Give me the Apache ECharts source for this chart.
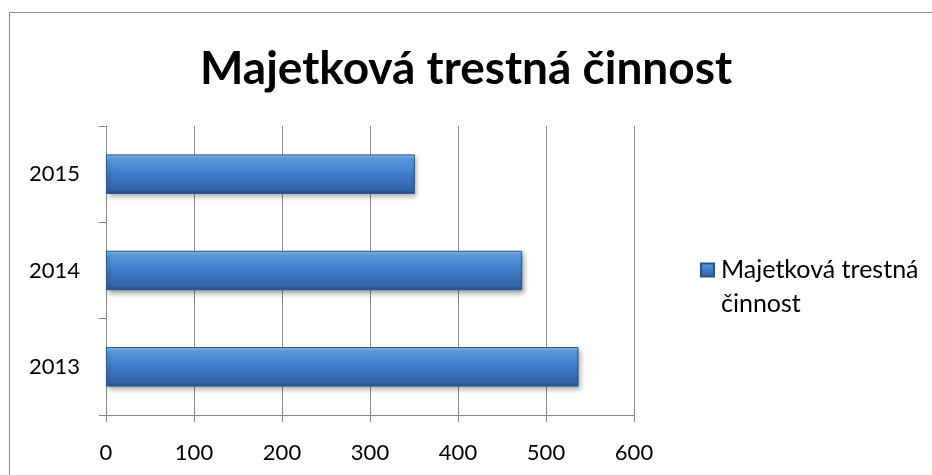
<!DOCTYPE html>
<html><head><meta charset="utf-8">
<script src="https://cdn.jsdelivr.net/npm/echarts@6/dist/echarts.min.js"></script>
<style>html,body{margin:0;padding:0;background:#fff}#c{width:932px;height:475px}</style>
</head><body><div id="c"></div>
<script>
const titleText = 'Majetková trestná činnost';
const seriesName = 'Majetková trestná činnost';
const legendLines = ['', 'Majetková trestná', 'činnost'];
const categories = ['2013', '2014', '2015'];
const values = [537, 473, 351];
const xTicks = { min: 0, max: 600, interval: 100 };

const chart = echarts.init(document.getElementById('c'), null, { renderer: 'canvas' });
const font = 'Lato';
const barColor = new echarts.graphic.LinearGradient(0, 0, 0, 1, [
  { offset: 0, color: '#8dbdf0' },
  { offset: 0.12, color: '#5b9be3' },
  { offset: 0.5, color: '#3d7ac8' },
  { offset: 0.88, color: '#3466a8' },
  { offset: 1, color: '#284f85' }
]);
chart.setOption({
  animation: false,
  graphic: [{
    type: 'rect', shape: { x: 9.5, y: 12.5, width: 1000, height: 600 },
    style: { fill: 'none', stroke: '#8c8c8c', lineWidth: 1 }
  }],
  title: {
    text: titleText, left: 'center', top: 41,
    textStyle: { fontFamily: font, fontSize: 46, fontWeight: 'bold', color: '#000' }
  },
  legend: {
    left: 695, top: 214, orient: 'vertical', itemWidth: 13, itemHeight: 13,
    icon: 'rect', itemGap: 6,
    formatter: () => legendLines.join('\n'),
    textStyle: { fontFamily: font, fontSize: 25, color: '#000', lineHeight: 34, padding: [0, 0, 0, 2] }
  },
  grid: { left: 106, right: 298, top: 126, bottom: 60, containLabel: false },
  xAxis: {
    type: 'value', min: xTicks.min, max: xTicks.max, interval: xTicks.interval,
    axisLine: { show: true, lineStyle: { color: '#868686' } },
    axisTick: { show: true, length: 7, lineStyle: { color: '#868686' } },
    splitLine: { show: true, lineStyle: { color: '#868686', width: 1 } },
    axisLabel: { fontFamily: font, fontSize: 22, color: '#000', margin: 27 }
  },
  yAxis: {
    type: 'category', data: categories,
    axisLine: { show: true, lineStyle: { color: '#868686' } },
    axisTick: { show: true, length: 7, lineStyle: { color: '#868686' } },
    axisLabel: { fontFamily: font, fontSize: 22, color: '#000', margin: 26 }
  },
  series: [{
    name: seriesName, type: 'bar', data: values, barWidth: '41%',
    itemStyle: {
      color: barColor, borderColor: '#2a5489', borderWidth: 1,
      shadowBlur: 5, shadowOffsetX: 2, shadowOffsetY: 3, shadowColor: 'rgba(0,0,0,0.35)'
    }
  }]
});
</script></body></html>
